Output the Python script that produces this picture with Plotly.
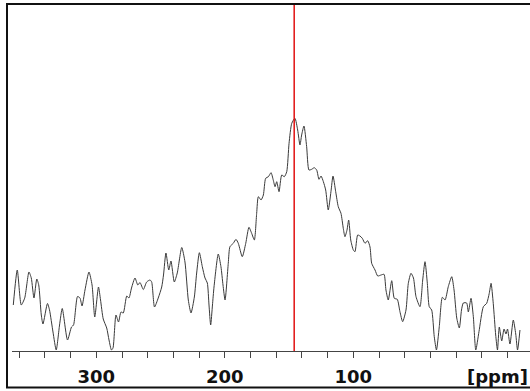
import plotly.graph_objects as go

# Chemical shift (ppm) and intensity (a.u.) of the spectrum trace
shift_ppm = [
    364.6, 361.5, 358.4, 355.7, 352.4, 350.6, 348.5, 346.3, 344.8, 342.8,
    341.5, 338.0, 336.4, 333.7, 331.2, 328.6, 326.5, 322.4, 319.3, 317.7,
    314.6, 312.7, 311.1, 308.8, 305.7, 303.3, 301.2, 298.3, 296.7, 294.6,
    291.9, 290.1, 288.2, 287.0, 284.7, 282.7, 280.8, 279.0, 276.3, 274.6,
    272.6, 269.9, 267.7, 266.0, 263.4, 260.8, 258.2, 256.9, 254.7, 251.8,
    249.1, 247.7, 245.8, 243.6, 241.9, 239.3, 237.0, 233.5, 231.0, 228.4,
    226.3, 223.7, 221.9, 219.8, 217.5, 215.4, 213.6, 212.3, 211.0, 209.6,
    208.4, 205.1, 203.0, 201.4, 199.8, 197.3, 196.0, 193.4, 191.3, 189.5,
    186.4, 183.7, 181.2, 179.1, 177.0, 175.2, 173.9, 171.8, 170.0, 168.2,
    166.1, 164.0, 162.3, 160.9, 159.6, 157.8, 155.7, 153.7, 151.8, 150.0,
    147.9, 145.4, 143.3, 141.5, 140.2, 138.4, 136.3, 134.5, 132.4, 130.4,
    128.5, 126.7, 125.1, 123.3, 121.5, 119.5, 117.4, 115.8, 113.7, 111.7,
    109.6, 107.8, 106.5, 104.9, 103.6, 102.0, 100.0, 98.7, 96.6, 94.8,
    93.0, 90.9, 88.8, 87.0, 85.7, 83.1, 81.0, 78.4, 76.1, 74.6,
    72.8, 70.1, 68.1, 65.8, 63.7, 61.6, 59.0, 57.2, 55.1, 53.2,
    51.2, 48.1, 46.0, 44.2, 42.4, 40.9, 39.0, 37.0, 35.3, 33.1,
    30.7, 28.6, 26.1, 23.4, 21.6, 19.5, 17.5, 15.8, 14.4, 11.8,
    10.5, 8.4, 6.6, 4.7, 2.2, -1.2, -3.8, -5.8, -7.2, -8.9,
    -10.8, -12.2, -13.6, -15.5, -17.3, -18.8, -20.0, -21.9, -24.5, -26.4,
    -27.8, -29.7,
]
intensity = [
    46, 81, 46, 53, 79, 73, 53, 72, 66, 36,
    27, 47.5, 41, 19, 1, 26, 42.5, 11, 24, 26,
    54.5, 53, 45, 61, 79, 66, 34, 64, 51, 32,
    23, 11, 1, 3, 36, 29, 39, 38, 55, 53,
    63, 73, 66, 68.5, 61.5, 69, 71, 69, 44, 53,
    64, 76, 98, 81, 90, 69, 78, 103.5, 89, 51,
    38, 54, 78, 98.3, 84.3, 73, 68, 46, 26, 46,
    64, 97, 84.3, 66, 51, 87.7, 104.3, 107.7, 111.7, 107.7,
    94.3, 107.7, 123.7, 117.7, 111, 137.7, 154.3, 151, 156, 172.7,
    174.3, 178.3, 171, 164.3, 169.3, 159.3, 176, 174.3, 179.3, 207.7,
    227.7, 232.7, 221, 206, 216, 225, 204.3, 181, 181.7, 183.3,
    181, 171.7, 175, 169.3, 161, 141, 159.3, 175, 159.3, 144.3,
    137.7, 122.7, 114.3, 121, 131, 111, 101, 99.3, 116, 115,
    112.7, 107.7, 110.3, 104, 87.7, 81, 75, 76, 76.7, 61,
    51, 70.3, 52.7, 51.7, 39.3, 29.3, 41, 67.7, 77.7, 73,
    54.3, 44.3, 71, 89.3, 67.7, 44.3, 41, 14.3, 1, 24.3,
    53.7, 51, 64.3, 74.3, 61, 33, 23, 41, 48, 48,
    39, 52.7, 34.3, 1, 19.3, 44.3, 47.7, 57.7, 67.7, 47.7,
    16, 1, 24, 10, 22, 17, 22, 7, 31, 17,
    1, 21,
]

# Axis ticks every 20 ppm, labelled every 100 ppm
tick_ppm = [360, 340, 320, 300, 280, 260, 240, 220, 200, 180,
            160, 140, 120, 100, 80, 60, 40, 20, 0, -20]
tick_text = ["", "", "", "300", "", "", "", "", "200", "",
             "", "", "", "100", "", "", "", "", "", ""]

marker_ppm = 146.0
axis_unit = "[ppm]"

W, H = 530, 391
label_font = dict(family="DejaVu Sans", size=18, color="#111111", weight="bold")

fig = go.Figure()
fig.add_trace(go.Scatter(
    x=shift_ppm, y=intensity, mode="lines",
    line=dict(color="#3a3a3a", width=1, shape="spline", smoothing=0.6),
    hoverinfo="skip", showlegend=False,
))

# reference line marking the chosen shift
fig.add_shape(type="line", xref="x", yref="y",
              x0=marker_ppm, x1=marker_ppm, y0=0, y1=347,
              line=dict(color="#e01010", width=1.5))

# frame around the spectrum window
fig.add_shape(type="rect", xref="paper", yref="paper",
              x0=7 / W, x1=1.02, y0=1 - 387.5 / H, y1=1 - 4 / H,
              line=dict(color="#111111", width=2), layer="above")

fig.add_annotation(text=axis_unit, xref="paper", yref="paper",
                   x=497 / W, y=1 - 376 / H, showarrow=False,
                   xanchor="center", yanchor="middle", font=label_font)

fig.update_layout(
    width=W, height=H,
    margin=dict(l=0, r=0, t=0, b=0),
    paper_bgcolor="white", plot_bgcolor="white",
    xaxis=dict(
        domain=[12 / W, 1],
        range=[365.6, -37.5],
        tickmode="array", tickvals=tick_ppm, ticktext=tick_text,
        ticks="outside", ticklen=6, tickwidth=1, tickcolor="#444444",
        showline=True, linecolor="#444444", linewidth=1,
        showgrid=False, zeroline=False,
        ticklabelstandoff=3,
        tickfont=label_font,
    ),
    yaxis=dict(
        domain=[1 - 351 / H, 1 - 4 / H],
        range=[0, 347],
        visible=False,
    ),
)

fig.write_html("out.html")
